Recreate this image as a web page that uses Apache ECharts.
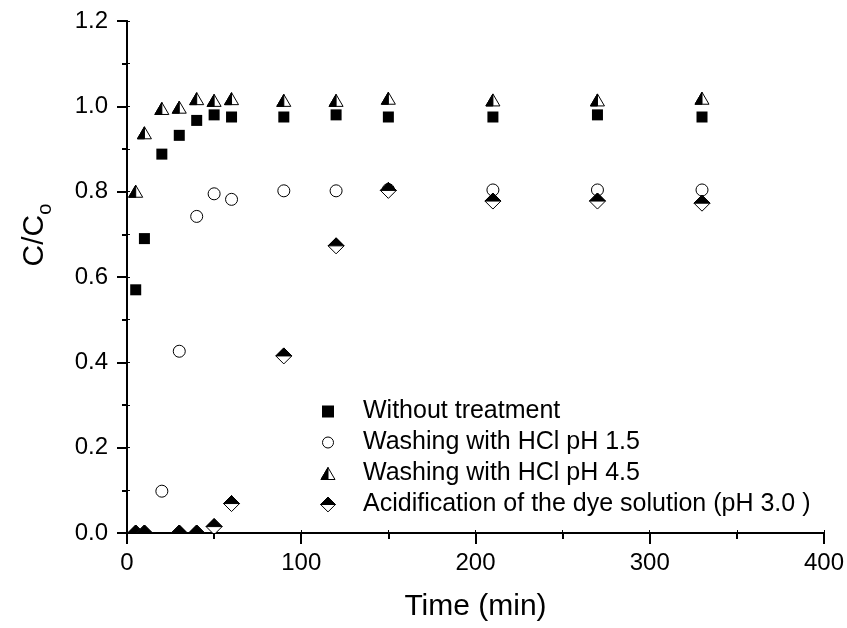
<!DOCTYPE html>
<html>
<head>
<meta charset="utf-8">
<title>C/Co vs time</title>
<script src="https://cdn.jsdelivr.net/npm/echarts@6/dist/echarts.min.js"></script>
<style>
    html, body { margin: 0; padding: 0; background: #fff; }
    #chart { width: 847px; height: 628px; }
</style>
</head>
<body>
<div id="chart"></div>
<script>
(function () {
    'use strict';

    // values
    var timeNoTreat = [5, 10, 20, 30, 40, 50, 60, 90, 120, 150, 210, 270, 330];
    var noTreat = [0.570, 0.690, 0.888, 0.932, 0.967, 0.980, 0.975, 0.975, 0.980, 0.975, 0.975, 0.980, 0.975];

    var timePh15 = [20, 30, 40, 50, 60, 90, 120, 150, 210, 270, 330];
    var ph15 = [0.098, 0.426, 0.742, 0.795, 0.782, 0.802, 0.802, 0.805, 0.804, 0.804, 0.804];

    var timePh45 = [5, 10, 20, 30, 40, 50, 60, 90, 120, 150, 210, 270, 330];
    var ph45 = [0.801, 0.938, 0.995, 0.998, 1.018, 1.014, 1.018, 1.014, 1.014, 1.019, 1.015, 1.015, 1.019];

    var timeAcid = [5, 10, 30, 40, 50, 60, 90, 120, 150, 210, 270, 330];
    var acid = [0, 0, 0, 0, 0.015, 0.069, 0.415, 0.673, 0.803, 0.778, 0.778, 0.773];

    var seriesNames = [
        'Without treatment',
        'Washing with HCl pH 1.5',
        'Washing with HCl pH 4.5',
        'Acidification of the dye solution (pH 3.0 )'
    ];

    var FONT = '"Liberation Sans", Arial, Helvetica, sans-serif';

    // legend icons, all in the same 16x16 box so they keep their relative size
    function svgIcon(body) {
        return 'image://data:image/svg+xml;utf8,' + encodeURIComponent(
            '<svg xmlns="http://www.w3.org/2000/svg" width="32" height="32" viewBox="0 0 16 16">' + body + '</svg>');
    }
    var iconSquare = svgIcon('<rect x="2" y="2" width="12" height="12" fill="#000"/>');
    var iconCircle = svgIcon('<circle cx="8" cy="8" r="5.5" fill="#fff" stroke="#000" stroke-width="1"/>');
    var iconTriangle = svgIcon(
        '<polygon points="8,2 15,14 1,14" fill="#fff" stroke="#000" stroke-width="1"/>' +
        '<polygon points="8,2 8,14 1,14" fill="#000" stroke="#000" stroke-width="1"/>');
    var iconDiamond = svgIcon(
        '<polygon points="8,0.6 15.4,8 8,15.4 0.6,8" fill="#fff" stroke="#000" stroke-width="1"/>' +
        '<polygon points="8,0.6 15.4,8 0.6,8" fill="#000" stroke="#000" stroke-width="1"/>');

    // half filled marker shapes, offsets around the data point
    var triOutline = [[0, -6], [7, 6], [-7, 6]];
    var triHalf = [[0, -6], [0, 6], [-7, 6]];
    var diaOutline = [[0, -8], [8, 0], [0, 8], [-8, 0]];
    var diaHalf = [[0, -8], [8, 0], [-8, 0]];

    function pairs(xs, ys) {
        var out = [];
        for (var i = 0; i < xs.length; i++) {
            out.push([xs[i], ys[i]]);
        }
        return out;
    }

    function halfMarker(outline, half) {
        return function (params, api) {
            var p = api.coord([api.value(0), api.value(1)]);
            var shift = function (list) {
                return list.map(function (d) { return [p[0] + d[0], p[1] + d[1]]; });
            };
            return {
                type: 'group',
                children: [
                    {type: 'polygon', shape: {points: shift(outline)}, style: {fill: '#fff', stroke: '#000', lineWidth: 1}},
                    {type: 'polygon', shape: {points: shift(half)}, style: {fill: '#000', stroke: '#000', lineWidth: 1}}
                ]
            };
        };
    }

    var mainAxisLine = {show: true, lineStyle: {color: '#000', width: 2}};
    var frameAxisLine = {show: true, lineStyle: {color: '#000', width: 2}};

    var chart = echarts.init(document.getElementById('chart'), null, {renderer: 'canvas'});

    chart.setOption({
        backgroundColor: '#fff',
        animation: false,
        grid: {left: 127, right: 21, top: 21, bottom: 94, containLabel: false},
        legend: {
            orient: 'vertical',
            left: 320,
            top: 398,
            padding: 0,
            itemGap: 4,
            itemWidth: 16,
            itemHeight: 16,
            textStyle: {fontFamily: FONT, fontSize: 25, lineHeight: 27, color: '#000', padding: [0, 0, 0, 22]},
            data: [
                {name: seriesNames[0], icon: iconSquare},
                {name: seriesNames[1], icon: iconCircle},
                {name: seriesNames[2], icon: iconTriangle},
                {name: seriesNames[3], icon: iconDiamond}
            ]
        },
        xAxis: [{
            type: 'value',
            min: 0,
            max: 400,
            interval: 100,
            position: 'bottom',
            name: 'Time (min)',
            nameLocation: 'middle',
            nameGap: 58,
            nameTextStyle: {fontFamily: FONT, fontSize: 30, lineHeight: 32, color: '#000'},
            axisLine: mainAxisLine,
            axisTick: {show: true, inside: false, length: 11, lineStyle: {color: '#000', width: 2}},
            minorTick: {show: true, splitNumber: 2, length: 6, lineStyle: {color: '#000', width: 2}},
            axisLabel: {fontFamily: FONT, fontSize: 24, color: '#000', margin: 18},
            splitLine: {show: false}
        }, {
            type: 'value',
            min: 0,
            max: 400,
            interval: 100,
            position: 'top',
            axisLine: frameAxisLine,
            axisTick: {show: true, inside: false, length: 3, lineStyle: {color: '#000', width: 1}},
            minorTick: {show: true, splitNumber: 2, length: 3, lineStyle: {color: '#000', width: 1}},
            axisLabel: {show: false},
            splitLine: {show: false}
        }],
        yAxis: [{
            type: 'value',
            min: 0,
            max: 1.2,
            interval: 0.2,
            position: 'left',
            name: 'C/C{o|o}',
            nameLocation: 'middle',
            nameGap: 72,
            nameRotate: 90,
            nameTextStyle: {
                fontFamily: FONT, fontSize: 30, lineHeight: 40, color: '#000',
                padding: [0, 0, 0, 84],
                rich: {o: {fontFamily: FONT, fontSize: 20, lineHeight: 20, verticalAlign: 'bottom', color: '#000'}}
            },
            axisLine: mainAxisLine,
            axisTick: {show: true, inside: false, length: 10, lineStyle: {color: '#000', width: 2}},
            minorTick: {show: true, splitNumber: 2, length: 5, lineStyle: {color: '#000', width: 2}},
            axisLabel: {
                fontFamily: FONT, fontSize: 24, color: '#000', margin: 19,
                formatter: function (v) { return v.toFixed(1); }
            },
            splitLine: {show: false}
        }, {
            type: 'value',
            min: 0,
            max: 1.2,
            interval: 0.2,
            position: 'right',
            axisLine: frameAxisLine,
            axisTick: {show: true, inside: false, length: 3, lineStyle: {color: '#000', width: 1}},
            minorTick: {show: true, splitNumber: 2, length: 3, lineStyle: {color: '#000', width: 1}},
            axisLabel: {show: false},
            splitLine: {show: false}
        }],
        series: [{
            name: seriesNames[0],
            type: 'scatter',
            symbol: 'rect',
            symbolSize: 11,
            z: 2,
            itemStyle: {color: '#000', opacity: 1},
            data: pairs(timeNoTreat, noTreat)
        }, {
            name: seriesNames[1],
            type: 'scatter',
            symbol: 'circle',
            symbolSize: 12,
            z: 2,
            itemStyle: {color: '#fff', borderColor: '#000', borderWidth: 1, opacity: 1},
            data: pairs(timePh15, ph15)
        }, {
            name: seriesNames[2],
            type: 'custom',
            clip: true,
            z: 3,
            encode: {x: 0, y: 1},
            renderItem: halfMarker(triOutline, triHalf),
            data: pairs(timePh45, ph45)
        }, {
            name: seriesNames[3],
            type: 'custom',
            clip: true,
            z: 4,
            encode: {x: 0, y: 1},
            renderItem: halfMarker(diaOutline, diaHalf),
            data: pairs(timeAcid, acid)
        }]
    });
})();
</script>
</body>
</html>
